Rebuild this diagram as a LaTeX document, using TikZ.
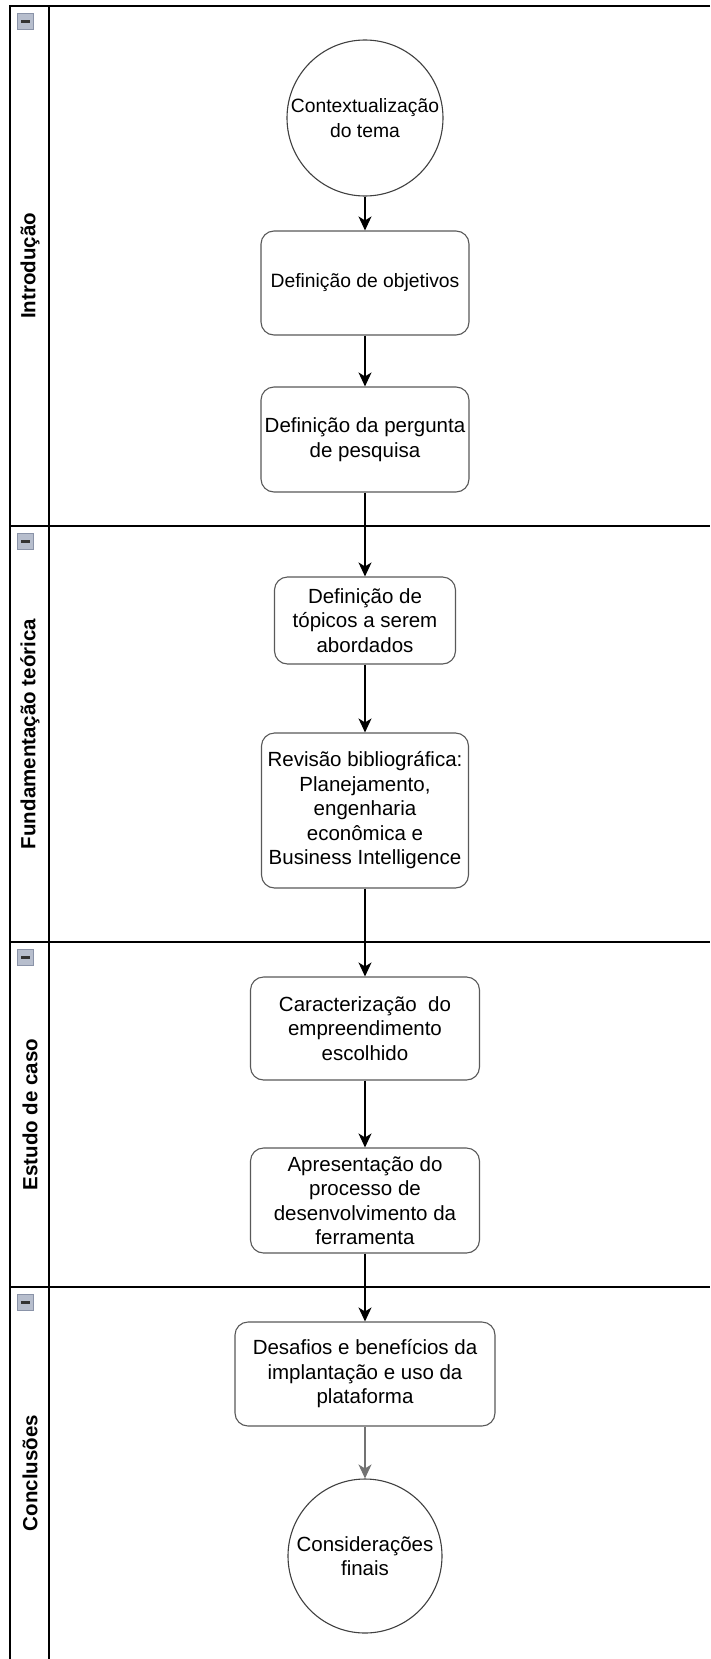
\documentclass[tikz,border=0pt]{standalone}
\usepackage{fontspec}
\setmainfont{Liberation Sans}
\usetikzlibrary{arrows.meta}
\definecolor{iconfill}{HTML}{B7BECD}
\definecolor{iconedge}{HTML}{8A93A8}
\begin{document}
\begin{tikzpicture}[x=1pt,y=-1pt,
  lane/.style={line width=1.7pt, draw=black},
  stepbox/.style={draw=black!65, line width=1.1pt, rounded corners=13pt, align=center, inner sep=0pt, fill=white,
    font=\fontsize{20.5}{24.5}\selectfont},
  smallbox/.style={stepbox, font=\fontsize{19.3}{24.5}\selectfont},
  evt/.style={draw=black!75, line width=1.1pt, circle, minimum size=156pt, align=center, inner sep=0pt, fill=white,
    font=\fontsize{20.5}{24.5}\selectfont},
  arr/.style={-{Stealth[length=14pt,width=13pt,inset=4pt]}, line width=1.3pt, draw=black},
  arrgray/.style={arr, draw=black!55},
  lanelabel/.style={rotate=90, font=\bfseries\fontsize{20.5}{24}\selectfont},
  iconbox/.style={fill=iconfill, draw=iconedge, line width=1pt},
  icondash/.style={line width=2.6pt, draw=black!80}]
\useasboundingbox (0,0) rectangle (710,1659);
% pool and lane lines
\draw[lane] (710,6) -- (10,6) -- (10,1659);
\draw[lane] (49,6) -- (49,1659);
\draw[lane] (10,526) -- (710,526);
\draw[lane] (10,942) -- (710,942);
\draw[lane] (10,1287) -- (710,1287);
% collapse icons
\foreach \yy in {6,526,942,1287}{
  \draw[iconbox] (17.5,\yy+7.5) rectangle ++(16,16);
  \draw[icondash] (21,\yy+15.5) -- ++(9,0);
}
% lane labels
\node[lanelabel] (l1) at (30,266) {Introdução};
\node[lanelabel] (l2) at (30,734) {Fundamentação teórica};
\node[lanelabel] (l3) at (30,1114.5) {Estudo de caso};
\node[lanelabel] (l4) at (30,1473) {Conclusões};
% nodes
\node[evt, font=\fontsize{19.3}{24.5}\selectfont] (c1) at (365,118) {Contextualização\\do tema};
\node[smallbox, minimum width=208pt, minimum height=104pt] (b1) at (365,283) {Definição de objetivos};
\node[stepbox, minimum width=208pt, minimum height=105pt] (b2) at (365,439.5) {Definição da pergunta\\de pesquisa};
\node[stepbox, minimum width=181pt, minimum height=87pt] (b3) at (365,620.5) {Definição de\\tópicos a serem\\abordados};
\node[stepbox, minimum width=207pt, minimum height=155pt] (b4) at (365,810.5) {Revisão bibliográfica:\\Planejamento,\\engenharia\\econômica e\\Business Intelligence};
\node[stepbox, minimum width=229pt, minimum height=103pt] (b5) at (365,1028.5) {Caracterização~ do\\empreendimento\\escolhido};
\node[stepbox, minimum width=229pt, minimum height=105pt] (b6) at (365,1200.5) {Apresentação do\\processo de\\desenvolvimento da\\ferramenta};
\node[stepbox, minimum width=260pt, minimum height=104pt] (b7) at (365,1374) {Desafios e benefícios da\\implantação e uso da\\plataforma};
\node[evt, minimum size=154pt] (c2) at (365,1556) {Considerações\\finais};
% connectors
\draw[arr] (c1) -- (b1);
\draw[arr] (b1) -- (b2);
\draw[arr] (b2) -- (b3);
\draw[arr] (b3) -- (b4);
\draw[arr] (b4) -- (b5);
\draw[arr] (b5) -- (b6);
\draw[arr] (b6) -- (b7);
\draw[arrgray] (b7) -- (c2);
\end{tikzpicture}
\end{document}
